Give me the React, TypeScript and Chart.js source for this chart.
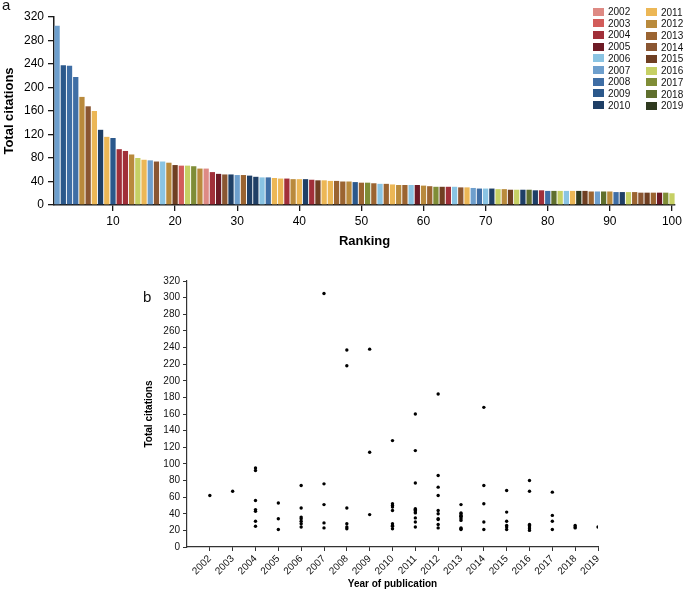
import React, { useEffect, useRef } from 'react';
import { Chart, registerables } from 'chart.js';

Chart.register(...registerables);

// ---------- DATA ----------
const legendYears = [2002, 2003, 2004, 2005, 2006, 2007, 2008, 2009, 2010, 2011, 2012, 2013, 2014, 2015, 2016, 2017, 2018, 2019];
const legendColors = [
  '#de8a84', '#d25c5a', '#a12f39', '#6d1a25', '#8ac4e3', '#6e9fcd', '#3f6ea5', '#2b588b', '#1f3f66',
  '#ecb756', '#b98a3c', '#9b6431', '#8a5632', '#6f3f22', '#c6d064', '#7f8d37', '#5f6f2d', '#2f3a1f',
];

// ranking 1..100: total citations and publication year of each paper
const rankCitations = [
  305, 238, 237, 218, 184, 168, 160, 128, 116, 114,
  95, 92, 86, 80, 77, 76, 74, 74, 72, 68,
  67, 67, 66, 62, 62, 56, 53, 52, 52, 51,
  51, 50, 48, 47, 47, 46, 45, 45, 44, 44,
  44, 43, 42, 42, 41, 41, 40, 40, 39, 38,
  38, 37, 36, 36, 35, 34, 34, 34, 34, 33,
  32, 31, 31, 31, 31, 30, 30, 29, 28, 28,
  28, 27, 27, 26, 26, 26, 26, 25, 25, 24,
  24, 24, 24, 24, 24, 24, 23, 23, 23, 23,
  22, 22, 22, 22, 21, 21, 21, 21, 21, 20,
];
const rankYears = [
  2007, 2009, 2008, 2008, 2012, 2014, 2011, 2010, 2011, 2009,
  2004, 2004, 2012, 2016, 2011, 2007, 2014, 2006, 2012, 2015,
  2003, 2016, 2017, 2012, 2002, 2004, 2005, 2014, 2010, 2007,
  2013, 2010, 2010, 2006, 2008, 2011, 2011, 2004, 2012, 2011,
  2010, 2004, 2015, 2011, 2011, 2013, 2013, 2012, 2009, 2013,
  2017, 2013, 2006, 2013, 2011, 2012, 2013, 2006, 2005, 2012,
  2013, 2017, 2015, 2004, 2006, 2014, 2011, 2007, 2008, 2006,
  2010, 2016, 2012, 2015, 2016, 2010, 2018, 2010, 2004, 2008,
  2018, 2016, 2006, 2011, 2019, 2015, 2013, 2007, 2018, 2012,
  2008, 2010, 2016, 2013, 2014, 2015, 2013, 2005, 2017, 2016,
];
const rankTickLabels = [10, 20, 30, 40, 50, 60, 70, 80, 90, 100];

const FONT = '"Liberation Sans", Arial, Helvetica, sans-serif';
const AXIS = '#1a1a1a';

function colorOfYear(y: number) {
  return legendColors[legendYears.indexOf(y)];
}

export default function App() {
  const refA = useRef<HTMLCanvasElement | null>(null);
  const refB = useRef<HTMLCanvasElement | null>(null);

  useEffect(() => {
    Chart.defaults.font.family = FONT;
    const labels = rankCitations.map((_, i) => String(i + 1));
    const chartA = new Chart(refA.current as HTMLCanvasElement, {
      type: 'bar',
      data: {
        labels,
        datasets: [
          {
            data: rankCitations,
            backgroundColor: rankYears.map(colorOfYear),
            borderWidth: 0,
            barPercentage: 0.85,
            categoryPercentage: 1,
          },
        ],
      },
      options: {
        animation: false,
        responsive: false,
        maintainAspectRatio: false,
        layout: { padding: { left: 0, right: 8, top: 17, bottom: 0 } },
        plugins: { legend: { display: false }, tooltip: { enabled: false } },
        scales: {
          x: {
            type: 'category',
            offset: true,
            grid: {
              display: true,
              drawOnChartArea: false,
              drawTicks: true,
              tickLength: 6,
              offset: false,
              lineWidth: 1.3,
              color: (ctx: any) => (rankTickLabels.includes(ctx.index + 1) ? AXIS : 'rgba(0,0,0,0)'),
              tickColor: (ctx: any) => (rankTickLabels.includes(ctx.index + 1) ? AXIS : 'rgba(0,0,0,0)'),
            },
            border: { display: true, color: AXIS, width: 1.5 },
            ticks: {
              autoSkip: false,
              maxRotation: 0,
              minRotation: 0,
              padding: 3,
              color: '#000',
              font: { size: 12 },
              callback: (_v: any, i: number) => (rankTickLabels.includes(i + 1) ? String(i + 1) : ''),
            },
            title: {
              display: true,
              text: 'Ranking',
              color: '#000',
              font: { size: 13, weight: 'bold' },
              padding: { top: 0, bottom: 1 },
            },
            afterFit: (s: any) => {
              s.height = 45;
            },
          },
          y: {
            min: 0,
            max: 320,
            grid: { display: true, drawOnChartArea: false, drawTicks: true, tickLength: 6, color: AXIS, lineWidth: 1.3 },
            border: { display: true, color: AXIS, width: 1.5 },
            ticks: { stepSize: 40, padding: 4, color: '#000', font: { size: 12 } },
            title: {
              display: true,
              text: 'Total citations',
              color: '#000',
              font: { size: 13, weight: 'bold' },
              padding: { top: 2, bottom: 0 },
            },
            afterFit: (s: any) => {
              s.width = 54;
            },
          },
        },
      },
    } as any);

    const points = rankCitations.map((c, i) => ({ x: rankYears[i], y: c }));
    const chartB = new Chart(refB.current as HTMLCanvasElement, {
      type: 'scatter',
      data: {
        datasets: [
          {
            data: points,
            backgroundColor: '#000',
            borderWidth: 0,
            pointRadius: 1.7,
            pointHoverRadius: 1.7,
          },
        ],
      },
      options: {
        animation: false,
        responsive: false,
        maintainAspectRatio: false,
        layout: { padding: { left: 140, right: 87, top: 11, bottom: 0 } },
        plugins: { legend: { display: false }, tooltip: { enabled: false } },
        scales: {
          x: {
            type: 'linear',
            min: 2001,
            max: 2019,
            grid: {
              display: true,
              drawOnChartArea: false,
              drawTicks: true,
              tickLength: 4,
              color: (ctx: any) => (ctx.tick && ctx.tick.value === 2001 ? 'rgba(0,0,0,0)' : '#333'),
              tickColor: (ctx: any) => (ctx.tick && ctx.tick.value === 2001 ? 'rgba(0,0,0,0)' : '#333'),
            },
            border: { display: true, color: '#333', width: 1.2 },
            ticks: {
              stepSize: 1,
              autoSkip: false,
              maxRotation: 45,
              minRotation: 45,
              padding: 2,
              color: '#111',
              font: { size: 10 },
              callback: (v: any) => (v === 2001 ? '' : String(v)),
            },
            title: {
              display: true,
              text: 'Year of publication',
              color: '#000',
              font: { size: 10, weight: 'bold' },
              padding: { top: 0, bottom: 1 },
            },
            afterFit: (s: any) => {
              s.height = 44;
            },
          },
          y: {
            min: 0,
            max: 320,
            grid: { display: true, drawOnChartArea: false, drawTicks: true, tickLength: 4, color: '#333' },
            border: { display: true, color: '#333', width: 1.2 },
            ticks: { stepSize: 20, padding: 3, color: '#111', font: { size: 10 } },
            title: {
              display: true,
              text: 'Total citations',
              color: '#000',
              font: { size: 10, weight: 'bold' },
              padding: { top: 3, bottom: 0 },
            },
            afterFit: (s: any) => {
              s.width = 47;
            },
          },
        },
      },
    } as any);

    return () => {
      chartA.destroy();
      chartB.destroy();
    };
  }, []);

  const legendItems = legendYears.map((yr, i) => {
    const col = i < 9 ? 0 : 1;
    const row = i % 9;
    const left = col === 0 ? 593 : 646;
    const top = 5.5 + row * 11.7 + col * 0.6;
    return (
      <div
        key={yr}
        style={{
          position: 'absolute',
          left,
          top,
          height: 12,
          display: 'flex',
          alignItems: 'center',
          fontFamily: FONT,
          fontSize: 10,
          color: '#111',
          whiteSpace: 'nowrap',
        }}
      >
        <span style={{ display: 'inline-block', width: 11, height: 8, background: legendColors[i], marginRight: 4 }} />
        <span>{yr}</span>
      </div>
    );
  });

  return (
    <div style={{ position: 'absolute', left: 0, top: 0, width: 685, height: 591, background: '#fff', overflow: 'hidden' }}>
      <canvas ref={refA} width={685} height={250} style={{ position: 'absolute', left: 0, top: 0, width: 685, height: 250 }} />
      <canvas ref={refB} width={685} height={321} style={{ position: 'absolute', left: 0, top: 270, width: 685, height: 321 }} />
      <div style={{ position: 'absolute', left: 2, top: -3, fontFamily: FONT, fontSize: 15, lineHeight: '15px', color: '#111' }}>a</div>
      <div style={{ position: 'absolute', left: 143, top: 289, fontFamily: FONT, fontSize: 15, lineHeight: '15px', color: '#111' }}>b</div>
      {legendItems}
    </div>
  );
}
